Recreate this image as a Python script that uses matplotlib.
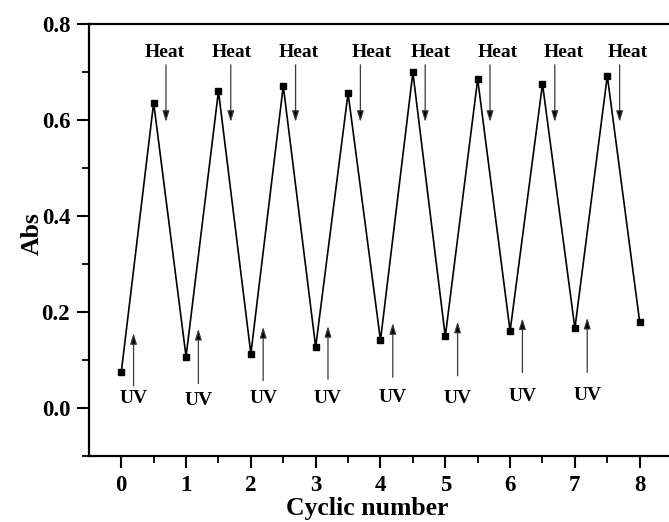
import matplotlib
matplotlib.use("Agg")
import matplotlib.pyplot as plt
from matplotlib.ticker import MultipleLocator

# Absorbance over repeated UV / heat switching.
# Whole cycle numbers are the UV-irradiated state, halves the heated state.
cycle = [0, 0.5, 1, 1.5, 2, 2.5, 3, 3.5, 4, 4.5, 5, 5.5, 6, 6.5, 7, 7.5, 8]
absorbance = [0.074, 0.636, 0.107, 0.660, 0.113, 0.671, 0.127, 0.656,
              0.141, 0.699, 0.149, 0.685, 0.160, 0.675, 0.166, 0.692, 0.179]

x_ticks = [0, 1, 2, 3, 4, 5, 6, 7, 8]
y_ticks = [0.0, 0.2, 0.4, 0.6, 0.8]

# annotation layout, in data coordinates
ARROW_DX = 0.19
HEAT_TEXT_DX = [0.17, 0.20, 0.24, 0.37, 0.28, 0.31, 0.33, 0.31]
HEAT_ARROW_Y = (0.715, 0.596)
HEAT_TEXT_Y = 0.731
UV_TIP_Y = [0.156, 0.165, 0.169, 0.171, 0.177, 0.180, 0.187, 0.188]
UV_TAIL_Y = [0.046, 0.051, 0.057, 0.060, 0.064, 0.067, 0.074, 0.074]
UV_TEXT_Y = [0.010, 0.006, 0.010, 0.010, 0.013, 0.010, 0.015, 0.017]

plt.rcParams["font.family"] = ["Liberation Serif", "DejaVu Serif"]
plt.rcParams["font.weight"] = "bold"

fig = plt.figure(figsize=(6.69, 5.22), dpi=100)
ax = fig.add_axes([0.133, 0.1264, 0.867, 0.8276])

ax.set_xlim(-0.498, 8.452)
ax.set_ylim(-0.1, 0.8)
ax.set_xticks(x_ticks)
ax.set_yticks(y_ticks)
ax.set_yticklabels([f"{v:.1f}" for v in y_ticks])
ax.xaxis.set_minor_locator(MultipleLocator(0.5))
ax.yaxis.set_minor_locator(MultipleLocator(0.1))
ax.tick_params(which="major", direction="out", length=8.5, width=1.5,
               labelsize=16.5, pad=5)
ax.tick_params(which="minor", direction="out", length=5, width=1.3)
ax.tick_params(top=False, right=False, which="both")
for side in ("left", "bottom", "top"):
    ax.spines[side].set_linewidth(1.6)
ax.spines["right"].set_visible(False)

ax.set_xlabel("Cyclic number", fontsize=18.5, fontweight="bold")
ax.set_ylabel("Abs", fontsize=18.5, fontweight="bold")
ax.xaxis.label.set_va("baseline")
ax.yaxis.label.set_va("center")
ax.xaxis.set_label_coords(0.48, -0.137)
ax.yaxis.set_label_coords(-0.0974, 0.516)

ax.plot(cycle, absorbance, color="black", lw=1.2,
        marker="s", markersize=5, markerfacecolor="black",
        markeredgecolor="black", clip_on=False)

arrow_kw = dict(arrowstyle="-|>,head_width=0.2,head_length=0.65",
                ec="#3a3a3a", fc="black", lw=0.9,
                shrinkA=0, shrinkB=0, mutation_scale=10)

peaks = cycle[1::2]
troughs = cycle[0:-1:2]

for i, x in enumerate(peaks):
    ax.annotate("", xy=(x + ARROW_DX, HEAT_ARROW_Y[1]),
                xytext=(x + ARROW_DX, HEAT_ARROW_Y[0]),
                arrowprops=arrow_kw)
    ax.text(x + HEAT_TEXT_DX[i], HEAT_TEXT_Y, "Heat", fontsize=14,
            fontweight="bold", ha="center", va="baseline")

for i, x in enumerate(troughs):
    ax.annotate("", xy=(x + ARROW_DX, UV_TIP_Y[i]),
                xytext=(x + ARROW_DX, UV_TAIL_Y[i]),
                arrowprops=arrow_kw)
    ax.text(x + ARROW_DX, UV_TEXT_Y[i], "UV", fontsize=14,
            fontweight="bold", ha="center", va="baseline")

fig.savefig("out.png", dpi=100)
